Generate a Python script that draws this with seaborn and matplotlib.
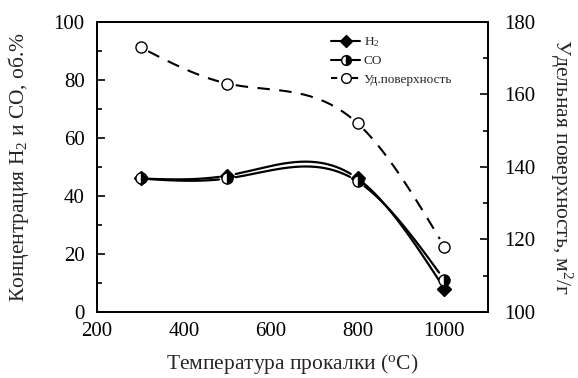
import numpy as np
import pandas as pd
import matplotlib
matplotlib.use("Agg")
import matplotlib.pyplot as plt
import seaborn as sns
from matplotlib.lines import Line2D

temps = [300, 500, 800, 1000]
h2 = [46, 47, 46, 8]
co = [46, 46, 45, 11]
surface = [173, 163, 152, 118]

sns.set_theme(style="white")
plt.rcParams['font.family'] = ['Liberation Serif', 'DejaVu Serif']
plt.rcParams['mathtext.fontset'] = 'custom'
plt.rcParams['mathtext.rm'] = 'Liberation Serif'
plt.rcParams['mathtext.it'] = 'Liberation Serif'
plt.rcParams['mathtext.default'] = 'regular'


def natural_spline(x, y, n=400):
    x = np.asarray(x, float); y = np.asarray(y, float)
    k = len(x); h = np.diff(x)
    A = np.zeros((k, k)); b = np.zeros(k)
    A[0, 0] = 1; A[-1, -1] = 1
    for i in range(1, k - 1):
        A[i, i - 1] = h[i - 1]; A[i, i] = 2 * (h[i - 1] + h[i]); A[i, i + 1] = h[i]
        b[i] = 3 * ((y[i + 1] - y[i]) / h[i] - (y[i] - y[i - 1]) / h[i - 1])
    c = np.linalg.solve(A, b)
    xs = np.linspace(x[0], x[-1], n); ys = np.empty_like(xs)
    for j, xv in enumerate(xs):
        i = min(np.searchsorted(x, xv, side='right') - 1, k - 2)
        dx = xv - x[i]
        bi = (y[i + 1] - y[i]) / h[i] - h[i] * (2 * c[i] + c[i + 1]) / 3
        di = (c[i + 1] - c[i]) / (3 * h[i])
        ys[j] = y[i] + bi * dx + c[i] * dx ** 2 + di * dx ** 3
    return xs, ys


def segmented(name, xs, ys, px, py, sx, sy, r=8):
    d = np.min([np.hypot((xs - a) * sx, (ys - b) * sy) for a, b in zip(px, py)], axis=0)
    keep = d >= r
    seg = np.cumsum(np.r_[0, np.diff(keep.astype(int)) != 0])
    return pd.DataFrame({'T': xs[keep], 'v': ys[keep], 'seg': seg[keep], 'series': name})


fig = plt.figure(figsize=(5.78, 3.78), dpi=100)
ax = fig.add_axes([0.168, 0.175, 0.676, 0.767])
ax2 = ax.twinx()

ax.set_xlim(200, 1100)
ax.set_ylim(0, 100)
ax2.set_ylim(100, 180)
sx = 391 / 900; sy = 290 / 100; sy2 = 290 / 80

xs, yh = natural_spline(temps, h2)
_, yc = natural_spline(temps, co)
_, ys = natural_spline(temps, surface)
d_h2 = segmented('H2', xs, yh, temps, h2, sx, sy)
d_co = segmented('CO', xs, yc, temps, co, sx, sy)
d_s = segmented('S', xs, ys, temps, surface, sx, sy2)

sns.lineplot(data=d_h2, x='T', y='v', units='seg', ax=ax, color='black', lw=1.6,
             estimator=None, sort=False)
sns.lineplot(data=d_co, x='T', y='v', units='seg', ax=ax, color='black', lw=1.6,
             estimator=None, sort=False)
sns.lineplot(data=d_s, x='T', y='v', units='seg', ax=ax2, color='black', lw=1.5,
             estimator=None, sort=False, linestyle=(0, (6, 4.5)))

ax.plot(temps, h2, 'D', color='black', ms=7, mec='black', zorder=5)
ax.plot(temps, co, 'o', color='black', ms=8, mec='black', mew=1.0, fillstyle='right',
        markerfacecoloralt='white', zorder=6)
ax2.plot(temps, surface, 'o', color='black', ms=8, mfc='white', mec='black', mew=1.0, zorder=6)

fs = 15
lfs = 15.5
ax.set_xlabel('Температура прокалки ($^o$C)', fontsize=lfs, labelpad=8)
ax.set_ylabel('Концентрация H$_2$ и CO, об.%', fontsize=lfs, labelpad=16)
ax2.set_ylabel('Удельная поверхность, м$^2$/г', fontsize=lfs, rotation=-90, labelpad=28)

ax.set_xticks([200, 400, 600, 800, 1000])
ax.set_xticks(np.arange(300, 1100, 200), minor=True)
ax.set_yticks(np.arange(0, 101, 20))
ax.set_yticks(np.arange(10, 100, 20), minor=True)
ax2.set_yticks(np.arange(100, 181, 20))
ax2.set_yticks(np.arange(110, 180, 20), minor=True)

for a in (ax, ax2):
    a.tick_params(which='both', direction='in', labelsize=fs, width=1.2, colors='black', pad=8)
    a.tick_params(which='major', length=6)
    a.tick_params(which='minor', length=3.5)
    for s in a.spines.values():
        s.set_color('black'); s.set_linewidth(1.3)
ax.tick_params(axis='y', right=False, pad=9)
ax.tick_params(axis='x', top=False, pad=7)
ax2.tick_params(axis='y', pad=12)

handles = [
    Line2D([], [], color='black', marker='D', ms=6.5, lw=1.5),
    Line2D([], [], color='black', marker='o', ms=7, lw=1.5, fillstyle='right', markerfacecoloralt='white'),
    Line2D([], [], color='black', marker='o', ms=7, lw=1.5, mfc='white', linestyle=(0, (3, 2))),
]
ax2.legend(handles, ['H$_2$', 'CO', 'Уд.поверхность'], loc='upper left',
           bbox_to_anchor=(0.575, 0.985), frameon=False, fontsize=9.5, handlelength=2.2,
           handletextpad=0.3, labelspacing=0.45, borderpad=0.2)

fig.savefig('out.png', dpi=100)
